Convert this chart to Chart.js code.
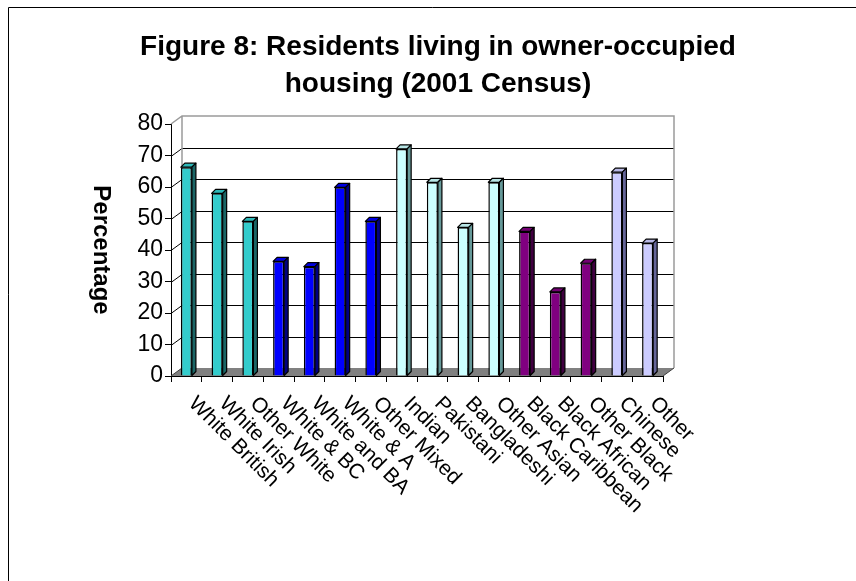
<!DOCTYPE html>
<html>
<head>
<meta charset="utf-8">
<script src="https://cdn.jsdelivr.net/npm/chart.js@4.4.1/dist/chart.umd.min.js"></script>
<style>
  html, body { margin: 0; padding: 0; background: #fff; }
  canvas { display: block; }
</style>
</head>
<body>
<canvas id="barChart" width="856" height="581"></canvas>
<script>
const titleLines = ['Figure 8: Residents living in owner-occupied', 'housing (2001 Census)'];
const yAxisTitle = 'Percentage';

const categories = ['White British', 'White Irish', 'Other White', 'White & BC', 'White and BA', 'White & A',
    'Other Mixed', 'Indian', 'Pakistani', 'Bangladeshi', 'Other Asian', 'Black Caribbean',
    'Black African', 'Other Black', 'Chinese', 'Other'];
const percentages = [66.3, 58.0, 49.1, 36.4, 34.7, 59.9, 49.1, 72.1, 61.5, 47.2, 61.5, 45.9, 26.7, 35.8, 64.7, 42.2];

const yMin = 0;
const yMax = 80;
const yStep = 10;

// colour groups: white, mixed, asian, black, chinese/other
const frontColors = ['#33CCCC', '#33CCCC', '#33CCCC', '#0000FF', '#0000FF', '#0000FF', '#0000FF',
    '#CCFFFF', '#CCFFFF', '#CCFFFF', '#CCFFFF', '#800080', '#800080', '#800080', '#CCCCFF', '#CCCCFF'];
const topColors = ['#2DB8B8', '#2DB8B8', '#2DB8B8', '#0000E0', '#0000E0', '#0000E0', '#0000E0',
    '#B8E6E6', '#B8E6E6', '#B8E6E6', '#B8E6E6', '#730073', '#730073', '#730073', '#B8B8E6', '#B8B8E6'];
const sideColors = ['#1A6666', '#1A6666', '#1A6666', '#000080', '#000080', '#000080', '#000080',
    '#669999', '#669999', '#669999', '#669999', '#400040', '#400040', '#400040', '#666699', '#666699'];

const fontFamily = '"Liberation Sans", Arial, sans-serif';
const wallDepth = { x: 11, y: 8 };
const barDepth = 4;

// fake 3D: back wall, floor, bar sides and the rotated labels
const excel3d = {
    id: 'excel3d',
    beforeDatasetsDraw(chart) {
        const { ctx, chartArea: a, scales: { y } } = chart;
        const bx0 = a.left + wallDepth.x, bx1 = a.right + wallDepth.x;
        const by0 = a.top - wallDepth.y, by1 = a.bottom - wallDepth.y;
        ctx.save();

        // grid lines on side wall + back wall
        ctx.lineWidth = 1;
        ctx.strokeStyle = '#000';
        for (let v = yMin + yStep; v < yMax; v += yStep) {
            const yy = Math.round(y.getPixelForValue(v)) + 0.5;
            ctx.beginPath();
            ctx.moveTo(a.left, yy);
            ctx.lineTo(bx0, yy - wallDepth.y);
            ctx.lineTo(bx1, yy - wallDepth.y);
            ctx.stroke();
        }

        // wall outline
        ctx.strokeStyle = '#9A9A9A';
        ctx.lineWidth = 1.5;
        ctx.beginPath();
        ctx.moveTo(a.left, a.top);
        ctx.lineTo(bx0, by0);
        ctx.lineTo(bx1, by0);
        ctx.lineTo(bx1, by1);
        ctx.moveTo(bx0, by0);
        ctx.lineTo(bx0, by1);
        ctx.stroke();

        // floor
        ctx.fillStyle = '#808080';
        ctx.beginPath();
        ctx.moveTo(a.left, a.bottom);
        ctx.lineTo(a.right, a.bottom);
        ctx.lineTo(bx1, by1);
        ctx.lineTo(bx0, by1);
        ctx.closePath();
        ctx.fill();
        ctx.strokeStyle = '#404040';
        ctx.lineWidth = 1;
        ctx.beginPath();
        ctx.moveTo(a.left, a.bottom);
        ctx.lineTo(bx0, by1);
        ctx.moveTo(a.right, a.bottom);
        ctx.lineTo(bx1, by1);
        ctx.stroke();
        ctx.strokeStyle = '#000';
        ctx.beginPath();
        ctx.moveTo(a.left, a.bottom + 0.5);
        ctx.lineTo(a.right, a.bottom + 0.5);
        ctx.stroke();
        ctx.restore();
    },
    afterDatasetsDraw(chart) {
        const { ctx } = chart;
        const bars = chart.getDatasetMeta(0).data;
        ctx.save();
        ctx.strokeStyle = '#000';
        ctx.lineWidth = 1.2;
        ctx.lineJoin = 'round';
        bars.forEach((bar, i) => {
            const { x, y, base, width } = bar.getProps(['x', 'y', 'base', 'width'], true);
            const l = x - width / 2, r = x + width / 2;
            // top face
            ctx.fillStyle = topColors[i];
            ctx.beginPath();
            ctx.moveTo(l, y);
            ctx.lineTo(l + barDepth, y - barDepth);
            ctx.lineTo(r + barDepth, y - barDepth);
            ctx.lineTo(r, y);
            ctx.closePath();
            ctx.fill();
            ctx.stroke();
            // side face
            ctx.fillStyle = sideColors[i];
            ctx.beginPath();
            ctx.moveTo(r, y);
            ctx.lineTo(r + barDepth, y - barDepth);
            ctx.lineTo(r + barDepth, base - barDepth);
            ctx.lineTo(r, base);
            ctx.closePath();
            ctx.fill();
            ctx.stroke();
        });
        ctx.restore();
    },
    afterDraw(chart) {
        const { ctx, chartArea: a, scales: { x } } = chart;
        ctx.save();
        ctx.fillStyle = '#000';

        // category labels, turned 45 degrees downwards
        ctx.font = '21px ' + fontFamily;
        ctx.textAlign = 'left';
        ctx.textBaseline = 'top';
        categories.forEach((label, i) => {
            ctx.save();
            ctx.translate(x.getPixelForValue(i) + 13, a.bottom + 17);
            ctx.rotate(Math.PI / 4);
            ctx.fillText(label, 0, 0);
            ctx.restore();
        });

        // title
        ctx.font = 'bold 28px ' + fontFamily;
        ctx.textAlign = 'center';
        ctx.textBaseline = 'middle';
        ctx.fillText(titleLines[0], 438, 47);
        ctx.fillText(titleLines[1], 438, 84);

        // y title reads top to bottom
        ctx.save();
        ctx.font = 'bold 24px ' + fontFamily;
        ctx.translate(101, (a.top + a.bottom) / 2);
        ctx.rotate(Math.PI / 2);
        ctx.fillText(yAxisTitle, 0, 0);
        ctx.restore();

        // chart frame
        ctx.strokeStyle = '#000';
        ctx.lineWidth = 1;
        ctx.beginPath();
        ctx.moveTo(8.5, 581);
        ctx.lineTo(8.5, 7.5);
        ctx.lineTo(856, 7.5);
        ctx.stroke();
        ctx.restore();
    }
};

const chartConfig = {
    type: 'bar',
    data: {
        labels: categories,
        datasets: [{
            data: percentages,
            backgroundColor: frontColors,
            borderColor: '#000',
            borderWidth: 1.5,
            barPercentage: 0.36,
            categoryPercentage: 1
        }]
    },
    options: {
        responsive: false,
        animation: false,
        layout: { padding: { left: 0, top: 124, right: 193, bottom: 199 } },
        plugins: {
            legend: { display: false },
            tooltip: { enabled: false },
            title: { display: false }
        },
        scales: {
            x: {
                ticks: { display: false },
                grid: { drawOnChartArea: false, tickLength: 6, color: '#000', offset: true },
                border: { color: '#000' },
                afterFit(scale) { scale.height = 6; }
            },
            y: {
                min: yMin,
                max: yMax,
                ticks: { stepSize: yStep, color: '#000', padding: 2, font: { size: 23, family: fontFamily } },
                grid: { drawOnChartArea: false, tickLength: 6, color: '#000' },
                border: { color: '#000' },
                afterFit(scale) { scale.width = 171; }
            }
        }
    },
    plugins: [excel3d]
};

let chartID = document.getElementById('barChart');
let chart = new Chart(chartID, chartConfig);
</script>
</body>
</html>
